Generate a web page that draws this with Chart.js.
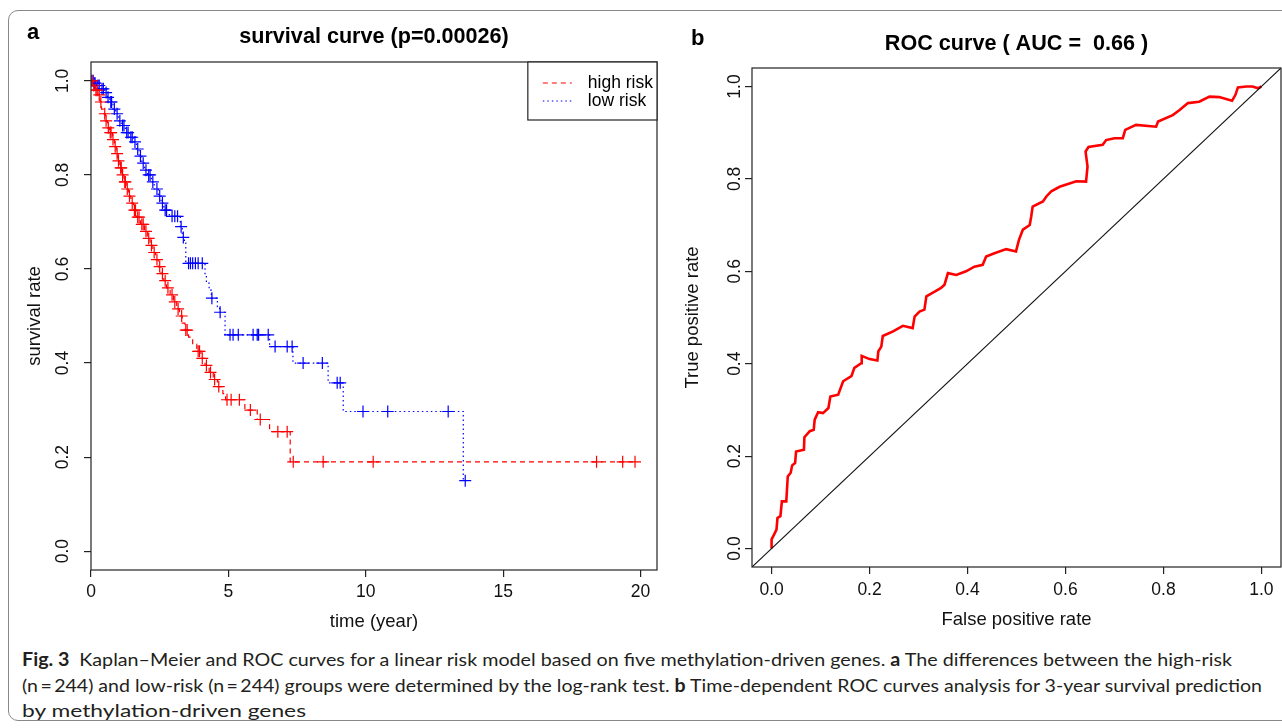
<!DOCTYPE html>
<html>
<head>
<meta charset="utf-8">
<script src="https://cdn.jsdelivr.net/npm/chart.js@4.4.1/dist/chart.umd.min.js"></script>
<style>
html,body{margin:0;padding:0;background:#fff;width:1282px;height:728px;overflow:hidden;position:relative;}
#frame{position:absolute;left:8px;top:10px;width:1320px;height:711px;border:1.5px solid #888;border-radius:10px;box-sizing:border-box;}
#kmwrap{position:absolute;left:0;top:0;width:700px;height:640px;}
#rocwrap{position:absolute;left:680px;top:0;width:602px;height:640px;}
.plab{position:absolute;font-family:"Liberation Sans",Arial,sans-serif;font-weight:bold;font-size:22px;line-height:22px;color:#000;}
#caption{position:absolute;left:22px;top:647px;font-family:Lato,"Liberation Sans",sans-serif;font-size:18px;line-height:25.5px;color:#231f20;white-space:nowrap;}
#caption .cl{display:block;height:25.5px;}
#caption .cl span{display:inline-block;transform-origin:0 50%;}
</style>
</head>
<body>
<div id="frame"></div>
<div id="kmwrap"><canvas id="km" width="700" height="640"></canvas></div>
<div id="rocwrap"><canvas id="roc" width="602" height="640"></canvas></div>
<div class="plab" style="left:27px;top:21px;">a</div>
<div class="plab" style="left:691px;top:27px;">b</div>
<div id="caption">
  <div class="cl" data-w="1210"><span><b>Fig. 3</b>&ensp;Kaplan–Meier and ROC curves for a linear risk model based on five methylation-driven genes. <b>a</b> The differences between the high-risk</span></div>
  <div class="cl" data-w="1240"><span>(n&thinsp;=&thinsp;244) and low-risk (n&thinsp;=&thinsp;244) groups were determined by the log-rank test. <b>b</b> Time-dependent ROC curves analysis for 3-year survival prediction</span></div>
  <div class="cl" data-w="284"><span>by methylation-driven genes</span></div>
</div>
<script>
// ---------------- data ----------------
const groupLabels = ['high risk', 'low risk'];
const kmTitle = 'survival curve (p=0.00026)';
const rocTitle = 'ROC curve ( AUC =  0.66 )';
const kmTimeTicks = [0, 5, 10, 15, 20];
const kmRateTicks = [0, 0.2, 0.4, 0.6, 0.8, 1.0];
const rocTicks = [0, 0.2, 0.4, 0.6, 0.8, 1.0];

// high-risk group: event times (years) and survival after each event
const highEventTimes = [0.05,0.15,0.25,0.33,0.38,0.45,0.52,0.6,0.68,0.78,0.85,0.92,0.98,1.05,1.12,1.2,1.28,1.36,1.45,1.55,1.65,1.8,1.95,2.05,2.15,2.25,2.35,2.45,2.55,2.65,2.75,2.88,3.0,3.12,3.22,3.32,3.42,3.55,3.7,3.85,4.0,4.15,4.3,4.45,4.6,4.8,4.9,5.6,6.05,6.5,7.25];
const highEventSurv  = [0.99,0.98,0.97,0.955,0.94,0.93,0.915,0.9,0.89,0.875,0.86,0.845,0.83,0.815,0.8,0.785,0.77,0.755,0.74,0.725,0.71,0.695,0.68,0.665,0.65,0.635,0.62,0.605,0.59,0.575,0.56,0.545,0.53,0.515,0.5,0.485,0.47,0.455,0.44,0.425,0.41,0.395,0.38,0.365,0.35,0.335,0.322,0.3,0.28,0.254,0.19];
const highCensorTimes = [0.04,0.1,0.18,0.22,0.3,0.36,0.5,0.55,0.63,0.7,0.73,0.8,0.88,0.95,1.0,1.08,1.1,1.15,1.23,1.25,1.32,1.4,1.5,1.58,1.62,1.7,1.75,1.85,1.9,2.0,2.1,2.2,2.3,2.4,2.5,2.6,2.7,2.8,2.95,3.05,3.17,3.3,3.45,3.5,3.9,3.95,4.05,4.2,4.35,4.5,4.65,4.95,5.1,5.4,5.8,6.16,6.8,7.14,7.36,8.45,10.27,18.4,19.35,19.8];

// low-risk group
const lowEventTimes = [0.1,0.2,0.35,0.5,0.6,0.68,0.8,0.9,1.0,1.1,1.25,1.4,1.55,1.65,1.75,1.85,1.95,2.05,2.2,2.3,2.45,2.55,2.65,2.85,3.25,3.32,3.4,3.45,4.15,4.2,4.3,4.38,4.6,4.68,4.88,6.5,7.35,8.63,9.18,13.55];
const lowEventSurv  = [0.995,0.99,0.983,0.975,0.965,0.955,0.94,0.93,0.915,0.905,0.89,0.88,0.87,0.855,0.84,0.825,0.81,0.8,0.785,0.77,0.755,0.74,0.725,0.712,0.69,0.667,0.655,0.612,0.59,0.57,0.555,0.538,0.52,0.508,0.46,0.435,0.4,0.358,0.297,0.15];
const lowCensorTimes = [0.03,0.08,0.12,0.15,0.25,0.3,0.4,0.45,0.55,0.62,0.72,0.75,0.85,0.95,1.05,1.15,1.2,1.3,1.35,1.45,1.5,1.6,1.7,1.8,1.9,2.0,2.1,2.15,2.25,2.4,2.5,2.6,2.7,2.75,2.95,3.05,3.15,3.28,3.36,3.55,3.62,3.7,3.8,3.9,4.05,4.4,4.7,5.06,5.17,5.36,5.9,6.05,6.1,6.45,6.7,7.14,7.32,7.72,8.42,8.96,9.07,9.9,10.8,13.0,13.62];

// ROC curve (3-year)
const rocFpr = [0,0,0.005,0.01,0.012,0.018,0.021,0.03,0.033,0.039,0.042,0.048,0.05,0.066,0.067,0.078,0.086,0.088,0.095,0.105,0.116,0.12,0.136,0.146,0.163,0.169,0.183,0.184,0.2,0.216,0.218,0.224,0.227,0.248,0.268,0.288,0.292,0.302,0.312,0.316,0.333,0.346,0.353,0.36,0.377,0.397,0.414,0.431,0.438,0.455,0.479,0.499,0.505,0.513,0.527,0.53,0.533,0.554,0.561,0.571,0.588,0.622,0.642,0.645,0.641,0.647,0.676,0.683,0.7,0.717,0.722,0.744,0.785,0.789,0.819,0.833,0.85,0.873,0.894,0.914,0.94,0.947,0.952,0.969,0.982,0.993,1];
const rocTpr = [0,0.02,0.03,0.041,0.066,0.07,0.102,0.102,0.156,0.164,0.18,0.185,0.21,0.214,0.241,0.254,0.257,0.279,0.295,0.293,0.304,0.329,0.333,0.362,0.373,0.391,0.401,0.417,0.41,0.407,0.427,0.437,0.46,0.47,0.482,0.477,0.502,0.513,0.517,0.546,0.556,0.564,0.571,0.596,0.592,0.6,0.61,0.614,0.632,0.639,0.648,0.643,0.668,0.69,0.7,0.718,0.74,0.751,0.762,0.773,0.783,0.795,0.794,0.827,0.859,0.869,0.874,0.884,0.888,0.888,0.906,0.917,0.913,0.924,0.938,0.949,0.964,0.967,0.978,0.977,0.969,0.982,0.998,1.0,1.0,0.996,1];

// axis limits
const kmXMax = 20.6;
const rocMin = -0.04, rocMax = 1.04;

// ---------------- helpers ----------------
function survAt(times, surv, t) {
  let s = 1;
  for (let i = 0; i < times.length; i++) { if (times[i] <= t) s = surv[i]; else break; }
  return s;
}
function kmLine(times, surv, censor) {
  const pts = [{x: 0, y: 1}];
  times.forEach((t, i) => pts.push({x: t, y: surv[i]}));
  const tEnd = Math.max(times[times.length - 1], ...censor);
  pts.push({x: tEnd, y: survAt(times, surv, tEnd)});
  return pts;
}
function kmMarks(times, surv, censor) {
  return censor.map(t => ({x: t, y: survAt(times, surv, t)}));
}

const FONT = '"Liberation Sans", Arial, Helvetica, sans-serif';
const RED = '#ff0000', BLUE = '#0000ff';

const boxPlugin = {
  id: 'rbox',
  afterDatasetsDraw(chart) {
    const {ctx, chartArea: a} = chart;
    ctx.save();
    ctx.strokeStyle = '#222';
    ctx.lineWidth = 1.2;
    ctx.strokeRect(a.left, a.top, a.right - a.left, a.bottom - a.top);
    ctx.restore();
  }
};

const kmLegend = {
  id: 'kmLegend',
  afterDraw(chart) {
    const {ctx, chartArea: a} = chart;
    const items = chart.data.datasets.filter(d => d.legendLine);
    ctx.save();
    ctx.font = '17.5px ' + FONT;
    const tw = Math.max(...items.map(d => ctx.measureText(d.label).width));
    const w = tw + 64, h = 58;
    const x0 = a.right - w, y0 = a.top;
    ctx.fillStyle = '#fff';
    ctx.fillRect(x0, y0, w, h);
    ctx.strokeStyle = '#222';
    ctx.lineWidth = 1.2;
    ctx.strokeRect(x0, y0, w, h);
    items.forEach((d, i) => {
      const y = y0 + 21 + i * 18;
      ctx.strokeStyle = d.borderColor;
      ctx.lineWidth = d.borderWidth;
      ctx.setLineDash(d.borderDash);
      ctx.beginPath();
      ctx.moveTo(x0 + 15, y);
      ctx.lineTo(x0 + 44, y);
      ctx.stroke();
      ctx.setLineDash([]);
      ctx.fillStyle = '#000';
      ctx.textBaseline = 'middle';
      ctx.textAlign = 'left';
      ctx.fillText(d.label, x0 + 60, y);
    });
    ctx.restore();
  }
};

function axisCommon(extra) {
  return Object.assign({
    type: 'linear',
    grid: {display: true, drawOnChartArea: false, drawTicks: true, tickLength: 7, color: '#222', lineWidth: 1.2},
    border: {display: false}
  }, extra);
}
const tickFont = {family: FONT, size: 17.5, lineHeight: 1};
const titleFont = {family: FONT, size: 18.5, lineHeight: 1};

// ---------------- KM chart ----------------
new Chart(document.getElementById('km'), {
  type: 'scatter',
  data: {
    datasets: [
      {label: groupLabels[0], data: kmLine(highEventTimes, highEventSurv, highCensorTimes), showLine: true, stepped: 'before',
       borderColor: RED, borderWidth: 1.2, borderDash: [5, 4], pointRadius: 0, legendLine: true},
      {label: groupLabels[1], data: kmLine(lowEventTimes, lowEventSurv, lowCensorTimes), showLine: true, stepped: 'before',
       borderColor: BLUE, borderWidth: 1.2, borderDash: [1.5, 3], pointRadius: 0, legendLine: true},
      {label: groupLabels[0] + ' (censored)', data: kmMarks(highEventTimes, highEventSurv, highCensorTimes), showLine: false,
       pointStyle: 'cross', pointRadius: 6, pointBorderWidth: 1.2, borderColor: RED, backgroundColor: RED},
      {label: groupLabels[1] + ' (censored)', data: kmMarks(lowEventTimes, lowEventSurv, lowCensorTimes), showLine: false,
       pointStyle: 'cross', pointRadius: 6, pointBorderWidth: 1.2, borderColor: BLUE, backgroundColor: BLUE}
    ]
  },
  options: {
    responsive: false, animation: false, devicePixelRatio: 1,
    layout: {padding: {left: 0, right: 43, top: 0, bottom: 0}},
    plugins: {
      legend: {display: false}, tooltip: {enabled: false},
      title: {display: true, text: kmTitle, fullSize: false, color: '#000',
              font: {family: FONT, size: 21.6, weight: 'bold', lineHeight: 1}, padding: {top: 26.7, bottom: 13.7}}
    },
    scales: {
      x: axisCommon({
        min: 0, max: kmXMax,
        afterBuildTicks: s => { s.ticks = kmTimeTicks.map(v => ({value: v})); },
        afterFit: s => { s.height = 70; },
        ticks: {autoSkip: false, maxRotation: 0, padding: 6.25, color: '#111', font: tickFont, callback: v => String(v)},
        title: {display: true, text: 'time (year)', color: '#111', font: titleFont, padding: {top: 0, bottom: 8.75}}
      }),
      y: axisCommon({
        min: -0.04, max: 1.04,
        afterBuildTicks: s => { s.ticks = kmRateTicks.map(v => ({value: v})); },
        afterFit: s => { s.width = 91; },
        ticks: {autoSkip: false, minRotation: 90, maxRotation: 90, crossAlign: 'center', padding: 8.8, color: '#111', font: tickFont, callback: v => v.toFixed(1)},
        title: {display: true, text: 'survival rate', color: '#111', font: titleFont, padding: {top: 25.75, bottom: 0}}
      })
    }
  },
  plugins: [boxPlugin, kmLegend]
});

// ---------------- ROC chart ----------------
new Chart(document.getElementById('roc'), {
  type: 'scatter',
  data: {
    datasets: [
      {label: 'reference', data: [{x: rocMin, y: rocMin}, {x: rocMax, y: rocMax}], showLine: true,
       borderColor: '#111', borderWidth: 1.1, pointRadius: 0, order: 0},
      {label: 'ROC', data: rocFpr.map((f, i) => ({x: f, y: rocTpr[i]})), showLine: true,
       borderColor: RED, borderWidth: 2.6, pointRadius: 0, tension: 0, order: 1}
    ]
  },
  options: {
    responsive: false, animation: false, devicePixelRatio: 1,
    layout: {padding: {left: 0, right: 1, top: 0, bottom: 0}},
    plugins: {
      legend: {display: false}, tooltip: {enabled: false},
      title: {display: true, text: rocTitle, fullSize: false, color: '#000',
              font: {family: FONT, size: 21.6, weight: 'bold', lineHeight: 1}, padding: {top: 33.2, bottom: 13.2}}
    },
    scales: {
      x: axisCommon({
        min: rocMin, max: rocMax,
        afterBuildTicks: s => { s.ticks = rocTicks.map(v => ({value: v})); },
        afterFit: s => { s.height = 73; },
        ticks: {autoSkip: false, maxRotation: 0, padding: 7.25, color: '#111', font: tickFont, callback: v => v.toFixed(1)},
        title: {display: true, text: 'False positive rate', color: '#111', font: titleFont, padding: {top: 0, bottom: 10.75}}
      }),
      y: axisCommon({
        min: rocMin, max: rocMax,
        afterBuildTicks: s => { s.ticks = rocTicks.map(v => ({value: v})); },
        afterFit: s => { s.width = 72; },
        ticks: {autoSkip: false, minRotation: 90, maxRotation: 90, crossAlign: 'center', padding: -2, color: '#111', font: tickFont, callback: v => v.toFixed(1)},
        title: {display: true, text: 'True positive rate', color: '#111', font: titleFont, padding: {top: 3.75, bottom: 0}}
      })
    }
  },
  plugins: [boxPlugin]
});

// ---------------- caption fitting (per line, to the reference line lengths) ----------------
document.querySelectorAll('#caption .cl').forEach(line => {
  const span = line.querySelector('span');
  const target = parseFloat(line.dataset.w);
  const w = span.getBoundingClientRect().width;
  if (w > 0) span.style.transform = 'scaleX(' + (target / w) + ')';
});
</script>
</body>
</html>
